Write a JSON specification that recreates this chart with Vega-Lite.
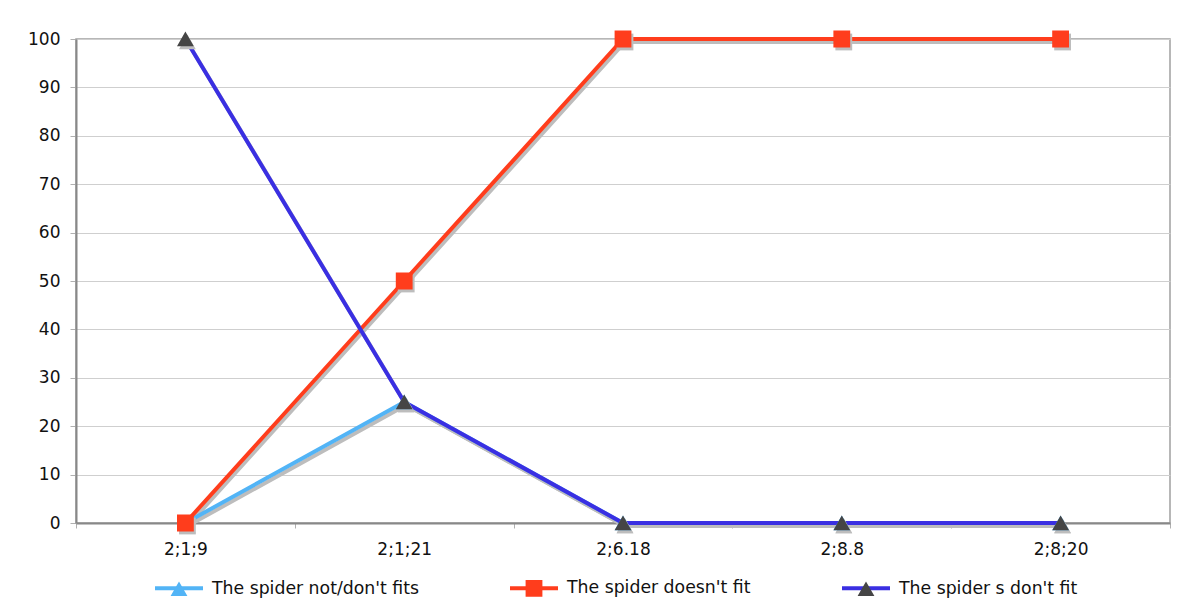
{
  "$schema": "https://vega.github.io/schema/vega-lite/v6.json",
  "width": 1094,
  "height": 484,
  "autosize": {"type": "none"},
  "padding": {"left": 76, "top": 39, "right": 9, "bottom": 88},
  "background": "white",
  "data": {
    "values": [
      {"series": "The spider not/don't fits", "age": "2;1;9", "value": 0},
      {"series": "The spider not/don't fits", "age": "2;1;21", "value": 25},
      {"series": "The spider not/don't fits", "age": "2;6.18", "value": 0},
      {"series": "The spider not/don't fits", "age": "2;8.8", "value": 0},
      {"series": "The spider not/don't fits", "age": "2;8;20", "value": 0},
      {"series": "The spider doesn't fit", "age": "2;1;9", "value": 0},
      {"series": "The spider doesn't fit", "age": "2;1;21", "value": 50},
      {"series": "The spider doesn't fit", "age": "2;6.18", "value": 100},
      {"series": "The spider doesn't fit", "age": "2;8.8", "value": 100},
      {"series": "The spider doesn't fit", "age": "2;8;20", "value": 100},
      {"series": "The spider s don't fit", "age": "2;1;9", "value": 100},
      {"series": "The spider s don't fit", "age": "2;1;21", "value": 25},
      {"series": "The spider s don't fit", "age": "2;6.18", "value": 0},
      {"series": "The spider s don't fit", "age": "2;8.8", "value": 0},
      {"series": "The spider s don't fit", "age": "2;8;20", "value": 0}
    ]
  },
  "encoding": {
    "x": {
      "field": "age",
      "type": "ordinal",
      "sort": null,
      "title": null,
      "scale": {"type": "band", "paddingInner": 0, "paddingOuter": 0},
      "axis": {
        "labelAngle": 0,
        "labelFont": "DejaVu Sans",
        "labelFontSize": 17,
        "labelColor": "#111111",
        "tickBand": "extent",
        "tickSize": 5,
        "tickColor": "#b0b0b0",
        "labelPadding": 13,
        "grid": false,
        "domainColor": "#888",
        "domainWidth": 2
      }
    },
    "y": {
      "field": "value",
      "type": "quantitative",
      "title": null,
      "scale": {"domain": [0, 100], "nice": false},
      "axis": {
        "values": [0, 10, 20, 30, 40, 50, 60, 70, 80, 90, 100],
        "labelFont": "DejaVu Sans",
        "labelFontSize": 17,
        "labelColor": "#111111",
        "tickSize": 6,
        "tickColor": "#b0b0b0",
        "labelPadding": 10,
        "grid": true,
        "gridColor": "#cfcfcf",
        "domainColor": "#888",
        "domainWidth": 2
      }
    }
  },
  "layer": [
    {
      "mark": {"type": "line", "strokeWidth": 4, "color": "#bdbdbd", "xOffset": 2, "yOffset": 3},
      "encoding": {"detail": {"field": "series"}}
    },
    {
      "mark": {"type": "line", "strokeWidth": 4},
      "encoding": {
        "color": {
          "field": "series",
          "type": "nominal",
          "sort": null,
          "scale": {"range": ["#52b4f6", "#ff3d1c", "#3a2fe2"]},
          "legend": {
            "orient": "none",
            "legendX": 77,
            "legendY": 523,
            "direction": "horizontal",
            "title": null,
            "symbolType": "stroke",
            "symbolSize": 2304,
            "symbolStrokeWidth": 4,
            "labelFont": "DejaVu Sans",
            "labelFontSize": 17.3,
            "labelColor": "transparent",
            "labelLimit": 0,
            "labelOffset": 7,
            "columnPadding": 83,
            "padding": 0,
            "zindex": 0
          }
        }
      }
    },
    {
      "transform": [{"filter": "datum.series === \"The spider doesn't fit\""}],
      "mark": {"type": "point", "filled": true, "opacity": 1, "size": 2304, "shape": "M-0.35,-0.35H0.35V0.35H-0.35Z", "color": "#bdbdbd", "xOffset": 2, "yOffset": 3}
    },
    {
      "transform": [{"filter": "datum.series !== \"The spider doesn't fit\""}],
      "mark": {"type": "point", "filled": true, "opacity": 1, "size": 2304, "shape": "M-0.35,0.3L0.35,0.3L0,-0.31Z", "color": "#bdbdbd", "xOffset": 2, "yOffset": 3}
    },
    {
      "mark": {"type": "point", "filled": true, "opacity": 1, "size": 2304},
      "encoding": {
        "shape": {
          "field": "series",
          "type": "nominal",
          "scale": {
            "domain": ["The spider not/don't fits", "The spider doesn't fit", "The spider s don't fit"],
            "range": [
              "M-1,0L1,0M-0.35,0.3L0.35,0.3L0,-0.31Z",
              "M-1,0L1,0M-0.35,-0.35H0.35V0.35H-0.35Z",
              "M-1,0L1,0M-0.35,0.3L0.35,0.3L0,-0.31Z"
            ]
          },
          "legend": {
            "orient": "none",
            "legendX": 77,
            "legendY": 523,
            "direction": "horizontal",
            "title": null,
            "symbolSize": 2304,
            "symbolStrokeWidth": 4,
            "symbolStrokeColor": "transparent",
            "labelFont": "DejaVu Sans",
            "labelFontSize": 17.3,
            "labelColor": "#111111",
            "labelLimit": 0,
            "labelOffset": 7,
            "columnPadding": 83,
            "padding": 0,
            "zindex": 1
          }
        },
        "fill": {
          "field": "series",
          "type": "nominal",
          "scale": {
            "domain": ["The spider not/don't fits", "The spider doesn't fit", "The spider s don't fit"],
            "range": ["#52b4f6", "#ff3d1c", "#454545"]
          },
          "legend": {
            "orient": "none",
            "legendX": 77,
            "legendY": 523,
            "direction": "horizontal",
            "title": null,
            "symbolSize": 2304,
            "symbolStrokeWidth": 4,
            "symbolStrokeColor": "transparent",
            "labelFont": "DejaVu Sans",
            "labelFontSize": 17.3,
            "labelColor": "#111111",
            "labelLimit": 0,
            "labelOffset": 7,
            "columnPadding": 83,
            "padding": 0,
            "zindex": 1
          }
        }
      }
    }
  ],
  "config": {
    "font": "DejaVu Sans",
    "view": {"stroke": "#a0a0a0", "strokeWidth": 1.5},
    "legend": {"symbolOpacity": 1}
  }
}
